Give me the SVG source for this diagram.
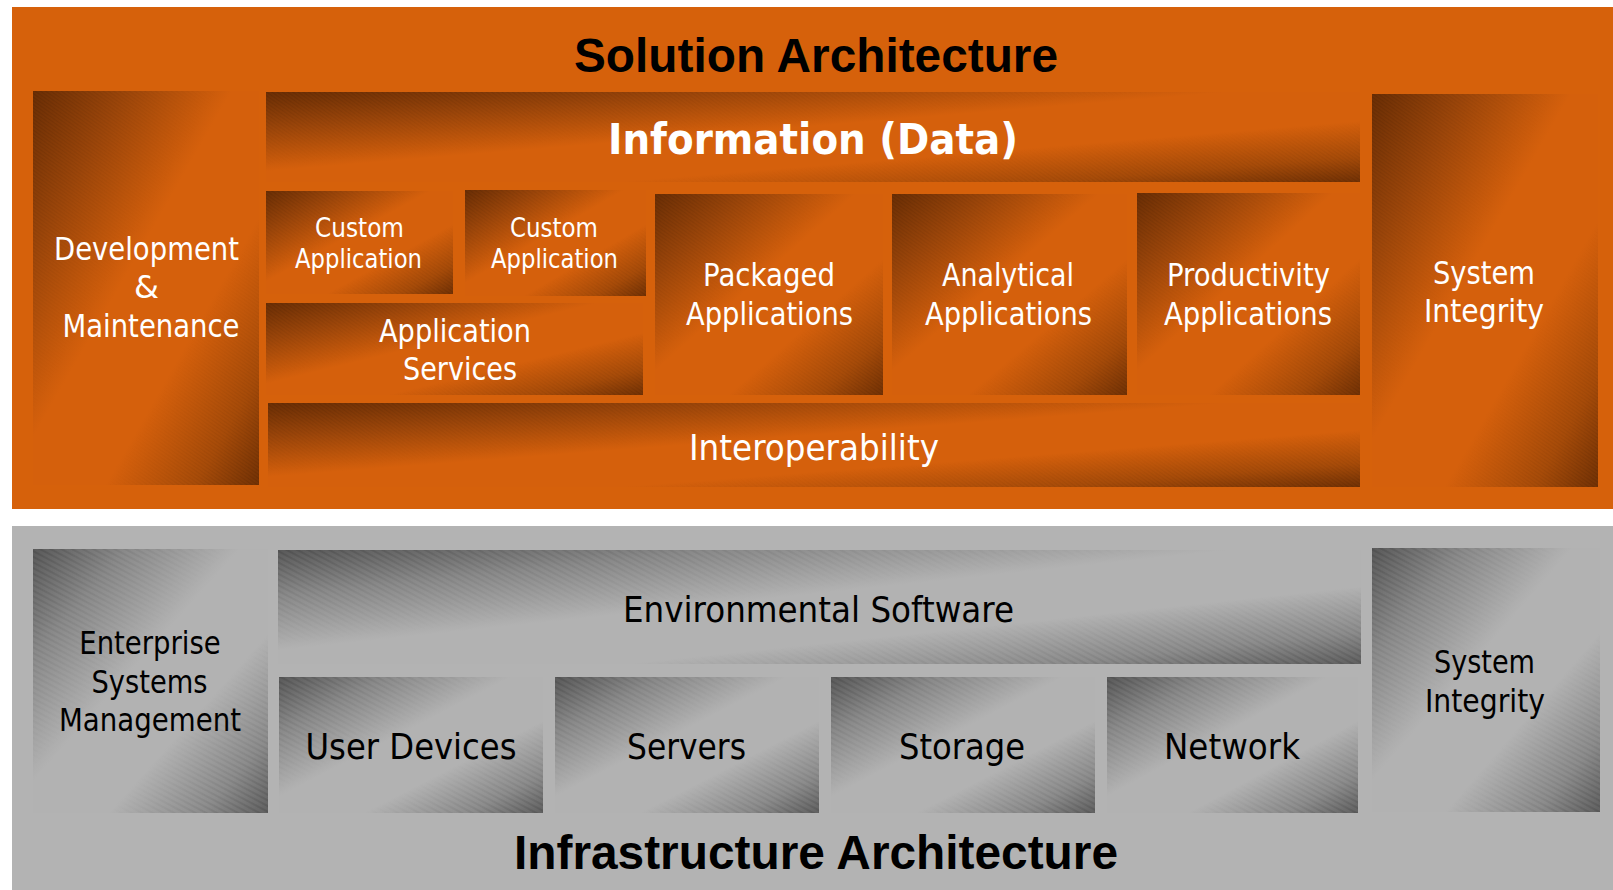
<svg xmlns="http://www.w3.org/2000/svg" width="1613" height="890" viewBox="0 0 1613 890">
<style>
.or{fill:url(#gOr)}
.orTex{fill:url(#pHatch);mask:url(#mTex)}
.gr{fill:url(#gGr)}
.grTex{fill:url(#pStripe);mask:url(#mTex)}
.tw{font-family:"DejaVu Sans",Verdana,sans-serif;fill:#fff;text-anchor:middle}
.tb{font-family:"DejaVu Sans",Verdana,sans-serif;fill:#000;text-anchor:middle}
.title{font-family:"Liberation Sans",Arial,sans-serif;font-weight:bold;font-size:48px;fill:#000;text-anchor:middle}
.f26{font-size:26px}.f32{font-size:32px}.f36{font-size:36px}
.bold{font-weight:bold;font-size:42px}
</style>
<defs>
<linearGradient id="gOr" x1="0" y1="0" x2="1" y2="1">
<stop offset="0" stop-color="#6a2e05"/>
<stop offset="0.2" stop-color="#9a450a"/>
<stop offset="0.44" stop-color="#d5600c"/>
<stop offset="0.66" stop-color="#d5600c"/>
<stop offset="0.86" stop-color="#a64b09"/>
<stop offset="1" stop-color="#713105"/>
</linearGradient>
<linearGradient id="gGr" x1="0" y1="0" x2="1" y2="1">
<stop offset="0" stop-color="#5a5a5a"/>
<stop offset="0.2" stop-color="#8a8a8a"/>
<stop offset="0.44" stop-color="#b2b2b2"/>
<stop offset="0.66" stop-color="#b2b2b2"/>
<stop offset="0.86" stop-color="#8c8c8c"/>
<stop offset="1" stop-color="#606060"/>
</linearGradient>
<linearGradient id="gMask" x1="0" y1="0" x2="1" y2="1">
<stop offset="0" stop-color="#fff"/>
<stop offset="0.42" stop-color="#000"/>
<stop offset="0.66" stop-color="#000"/>
<stop offset="1" stop-color="#fff"/>
</linearGradient>
<mask id="mTex" maskContentUnits="objectBoundingBox">
<rect width="1" height="1" fill="url(#gMask)"/>
</mask>
<pattern id="pHatch" width="3" height="3" patternUnits="userSpaceOnUse" patternTransform="rotate(35)">
<rect width="3" height="1" fill="#000" fill-opacity="0.08"/>
</pattern>
<pattern id="pStripe" width="5" height="5" patternUnits="userSpaceOnUse" patternTransform="rotate(28)">
<rect width="5" height="2" fill="#000" fill-opacity="0.1"/>
</pattern>
</defs>
<rect width="1613" height="890" fill="#fff"/>
<g id="solution-panel">
<rect x="12" y="7" width="1601" height="502" fill="#d6610b"/>
<text class="title" x="816" y="72" textLength="484" lengthAdjust="spacingAndGlyphs">Solution Architecture</text>
</g>
<g id="infrastructure-panel">
<rect x="12" y="526" width="1601" height="364" fill="#b3b3b3"/>
<text class="title" x="816" y="869" textLength="604" lengthAdjust="spacingAndGlyphs">Infrastructure Architecture</text>
</g>
<g id="dev-maint">
<rect class="or" x="33" y="91" width="226" height="394"/>
<rect class="orTex" x="33" y="91" width="226" height="394"/>
<text class="tw f32" x="146.5" y="260" textLength="185" lengthAdjust="spacingAndGlyphs">Development</text>
<text class="tw f32" x="146.5" y="298">&amp;</text>
<text class="tw f32" x="151" y="337" textLength="177" lengthAdjust="spacingAndGlyphs">Maintenance</text>
</g>
<g id="information">
<rect class="or" x="266" y="92" width="1094" height="90"/>
<rect class="orTex" x="266" y="92" width="1094" height="90"/>
<text class="tw bold" x="813" y="154" textLength="410" lengthAdjust="spacingAndGlyphs">Information (Data)</text>
</g>
<g id="custom-app-1">
<rect class="or" x="266" y="191" width="187" height="103"/>
<rect class="orTex" x="266" y="191" width="187" height="103"/>
<text class="tw f26" x="359.5" y="237" textLength="89" lengthAdjust="spacingAndGlyphs">Custom</text>
<text class="tw f26" x="358.5" y="268" textLength="127" lengthAdjust="spacingAndGlyphs">Application</text>
</g>
<g id="custom-app-2">
<rect class="or" x="465" y="190" width="181" height="106"/>
<rect class="orTex" x="465" y="190" width="181" height="106"/>
<text class="tw f26" x="554" y="237" textLength="88" lengthAdjust="spacingAndGlyphs">Custom</text>
<text class="tw f26" x="554.5" y="268" textLength="127" lengthAdjust="spacingAndGlyphs">Application</text>
</g>
<g id="app-services">
<rect class="or" x="266" y="303" width="377" height="92"/>
<rect class="orTex" x="266" y="303" width="377" height="92"/>
<text class="tw f32" x="455" y="342" textLength="152" lengthAdjust="spacingAndGlyphs">Application</text>
<text class="tw f32" x="460" y="380" textLength="114" lengthAdjust="spacingAndGlyphs">Services</text>
</g>
<g id="packaged">
<rect class="or" x="655" y="194" width="228" height="201"/>
<rect class="orTex" x="655" y="194" width="228" height="201"/>
<text class="tw f32" x="769" y="286" textLength="132" lengthAdjust="spacingAndGlyphs">Packaged</text>
<text class="tw f32" x="769.5" y="325" textLength="167" lengthAdjust="spacingAndGlyphs">Applications</text>
</g>
<g id="analytical">
<rect class="or" x="892" y="194" width="235" height="201"/>
<rect class="orTex" x="892" y="194" width="235" height="201"/>
<text class="tw f32" x="1008" y="286" textLength="132" lengthAdjust="spacingAndGlyphs">Analytical</text>
<text class="tw f32" x="1008.5" y="325" textLength="167" lengthAdjust="spacingAndGlyphs">Applications</text>
</g>
<g id="productivity">
<rect class="or" x="1137" y="193" width="223" height="202"/>
<rect class="orTex" x="1137" y="193" width="223" height="202"/>
<text class="tw f32" x="1248.5" y="286" textLength="163" lengthAdjust="spacingAndGlyphs">Productivity</text>
<text class="tw f32" x="1248" y="325" textLength="168" lengthAdjust="spacingAndGlyphs">Applications</text>
</g>
<g id="interoperability">
<rect class="or" x="268" y="403" width="1092" height="84"/>
<rect class="orTex" x="268" y="403" width="1092" height="84"/>
<text class="tw f36" x="814" y="460" textLength="250" lengthAdjust="spacingAndGlyphs">Interoperability</text>
</g>
<g id="system-integrity-solution">
<rect class="or" x="1372" y="94" width="226" height="393"/>
<rect class="orTex" x="1372" y="94" width="226" height="393"/>
<text class="tw f32" x="1484" y="284" textLength="102" lengthAdjust="spacingAndGlyphs">System</text>
<text class="tw f32" x="1484" y="322" textLength="120" lengthAdjust="spacingAndGlyphs">Integrity</text>
</g>
<g id="esm">
<rect class="gr" x="33" y="549" width="235" height="264"/>
<rect class="grTex" x="33" y="549" width="235" height="264"/>
<text class="tb f32" x="150" y="654" textLength="141.5" lengthAdjust="spacingAndGlyphs">Enterprise</text>
<text class="tb f32" x="149.5" y="693" textLength="116" lengthAdjust="spacingAndGlyphs">Systems</text>
<text class="tb f32" x="150" y="731" textLength="182" lengthAdjust="spacingAndGlyphs">Management</text>
</g>
<g id="environmental-software">
<rect class="gr" x="278" y="550" width="1083" height="114"/>
<rect class="grTex" x="278" y="550" width="1083" height="114"/>
<text class="tb f36" x="818.5" y="622" textLength="391" lengthAdjust="spacingAndGlyphs">Environmental Software</text>
</g>
<g id="user-devices">
<rect class="gr" x="279" y="677" width="264" height="136"/>
<rect class="grTex" x="279" y="677" width="264" height="136"/>
<text class="tb f36" x="411" y="759" textLength="211" lengthAdjust="spacingAndGlyphs">User Devices</text>
</g>
<g id="servers">
<rect class="gr" x="555" y="677" width="264" height="136"/>
<rect class="grTex" x="555" y="677" width="264" height="136"/>
<text class="tb f36" x="686.5" y="759" textLength="119" lengthAdjust="spacingAndGlyphs">Servers</text>
</g>
<g id="storage">
<rect class="gr" x="831" y="677" width="264" height="136"/>
<rect class="grTex" x="831" y="677" width="264" height="136"/>
<text class="tb f36" x="962" y="759" textLength="126" lengthAdjust="spacingAndGlyphs">Storage</text>
</g>
<g id="network">
<rect class="gr" x="1107" y="677" width="251" height="136"/>
<rect class="grTex" x="1107" y="677" width="251" height="136"/>
<text class="tb f36" x="1232" y="759" textLength="136" lengthAdjust="spacingAndGlyphs">Network</text>
</g>
<g id="system-integrity-infrastructure">
<rect class="gr" x="1372" y="548" width="228" height="264"/>
<rect class="grTex" x="1372" y="548" width="228" height="264"/>
<text class="tb f32" x="1484.5" y="673" textLength="101" lengthAdjust="spacingAndGlyphs">System</text>
<text class="tb f32" x="1485" y="712" textLength="120" lengthAdjust="spacingAndGlyphs">Integrity</text>
</g>
<g id="connectors"/>
</svg>
